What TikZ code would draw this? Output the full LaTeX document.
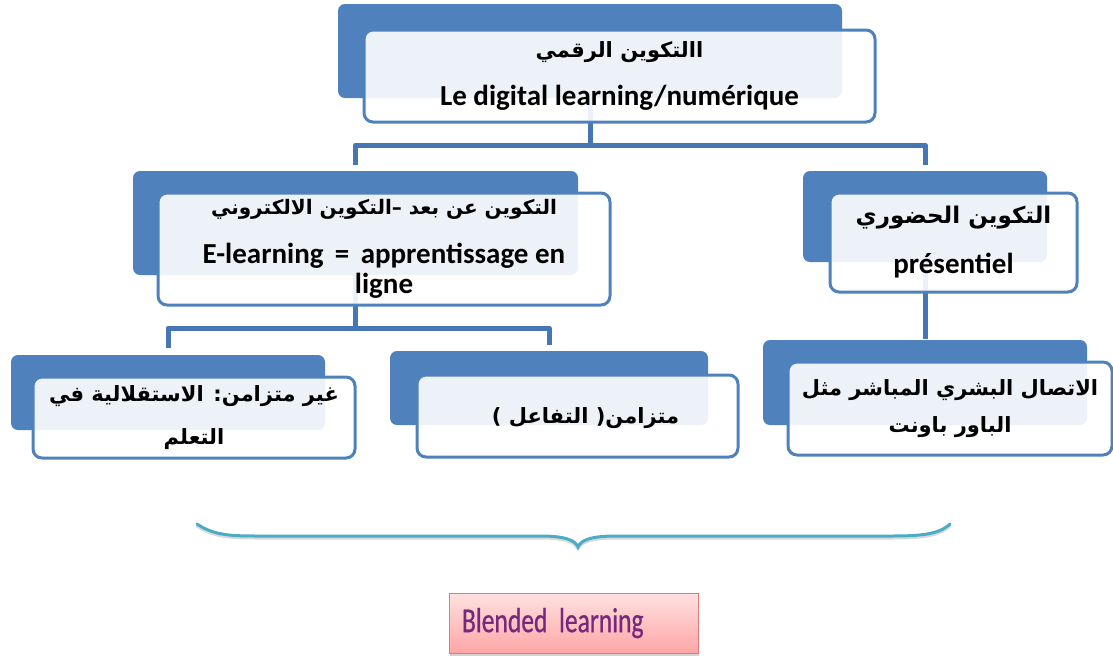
\documentclass[tikz,border=0pt]{standalone}
\usepackage{fontspec}
\setmainfont{Carlito}
\newfontfamily\arabicfont[Script=Arabic]{DejaVu Sans}
\newfontfamily\blendfont[FakeStretch=0.73,FakeBold=0.6]{Carlito}
\TeXXeTstate=1
\usetikzlibrary{calc,shadows}
\definecolor{officeblue}{HTML}{4F81BD}
\definecolor{linkblue}{HTML}{4676B3}
\definecolor{bracecyan}{HTML}{4BACC6}
\definecolor{blendpurple}{HTML}{76287C}
\definecolor{blendborder}{HTML}{E07B7B}
\newcommand{\arsize}[1]{\arabicfont\fontsize{#1}{#1}\selectfont}

\begin{document}
\begin{tikzpicture}[x=1pt,y=-1pt,
  back/.style={fill=officeblue,rounded corners=7pt,inner sep=0pt},
  front/.style={draw=officeblue,line width=3pt,fill=white,fill opacity=0.9,text opacity=1,
    rounded corners=9pt,align=center,inner sep=0pt,font=\bfseries\fontsize{29}{33}\selectfont},
  link/.style={draw=linkblue,line width=5pt,line join=round},
  blend/.style={draw=blendborder,line width=1pt,top color=red!12,bottom color=red!35,
    drop shadow={shadow xshift=0.5pt,shadow yshift=-3pt,opacity=.35},
    minimum width=249,minimum height=60,text width=223,inner xsep=13,align=left,
    text=blendpurple,font={\blendfont\fontsize{35}{38}\selectfont\spaceskip=6pt plus 1pt}}]
\useasboundingbox (0,0) rectangle (1113,657);

\node[back,minimum width=504,minimum height=94] (topback) at (590,51) {};
\node[back,minimum width=445,minimum height=104] (lmidback) at (355.5,223) {};
\node[back,minimum width=244,minimum height=91] (rmidback) at (925,216.5) {};
\node[back,minimum width=314,minimum height=75] (blback) at (168,392.5) {};
\node[back,minimum width=318,minimum height=74] (bmback) at (549,388) {};
\node[back,minimum width=324,minimum height=85] (brback) at (925,382.5) {};

\coordinate (bus1) at (0,145);
\coordinate (bus2) at (0,328);
\draw[link] (topback.south) -- (topback.south |- bus1);
\draw[link] ([yshift=6pt]lmidback.north) |- (rmidback.north |- bus1) -- ([yshift=6pt]rmidback.north);
\draw[link] (lmidback.south) -- (lmidback.south |- bus2);
\draw[link] ([yshift=7pt]blback.north) |- (bmback.north |- bus2) -- ([yshift=6pt]bmback.north);
\draw[link] (rmidback.south) -- ([yshift=1pt]brback.north);

\node[front,minimum width=511,minimum height=92] (top) at (619.5,76)
  {{\arsize{21}\beginR االتكوين  الرقمي\endR}\\[15pt]Le digital learning/numérique};
\node[front,minimum width=452,minimum height=112] (lmid) at (384,249)
  {{\arsize{20}\beginR التكوين عن بعد –التكوين الالكتروني\endR}\\[16pt]E-learning \,=\, apprentissage en\\[-3pt]ligne};
\node[front,minimum width=247,minimum height=99] (rmid) at (953.5,242.5)
  {{\arsize{23}\beginR التكوين  الحضوري\endR}\\[17pt]présentiel};
\node[front,minimum width=322,minimum height=81] (bleft) at (194,417.5)
  {{\arsize{21}\beginR غير متزامن: الاستقلالية في\endR}\\[10pt]{\arsize{21}\beginR التعلم\endR}};
\node[front,minimum width=321,minimum height=82,text depth=0pt] (bmid) at (577.5,416)
  {\hspace*{16pt}{\arsize{21}\beginR متزامن( التفاعل )\endR}};
\node[front,minimum width=324,minimum height=93] (bright) at (950,408.5)
  {{\arsize{21}\beginR الاتصال البشري المباشر مثل\endR}\\[4pt]{\arsize{21}\beginR الباور باونت\endR}};

\draw[gray!30,line width=3pt,line cap=round,yshift=-2pt] (197,524) .. controls (215,536) and (232,536) .. (262,536) -- (540,536) .. controls (565,536) and (575,540) .. (578,547) .. controls (581,540) and (591,536) .. (616,536) -- (888,536) .. controls (920,536) and (938,535) .. (950,524);
\draw[bracecyan,line width=3pt,line cap=round] (197,524) .. controls (215,536) and (232,536) .. (262,536) -- (540,536) .. controls (565,536) and (575,540) .. (578,547) .. controls (581,540) and (591,536) .. (616,536) -- (888,536) .. controls (920,536) and (938,535) .. (950,524);

\node[blend] (blendbox) at (573.5,623) {Blended learning};
\end{tikzpicture}
\end{document}
